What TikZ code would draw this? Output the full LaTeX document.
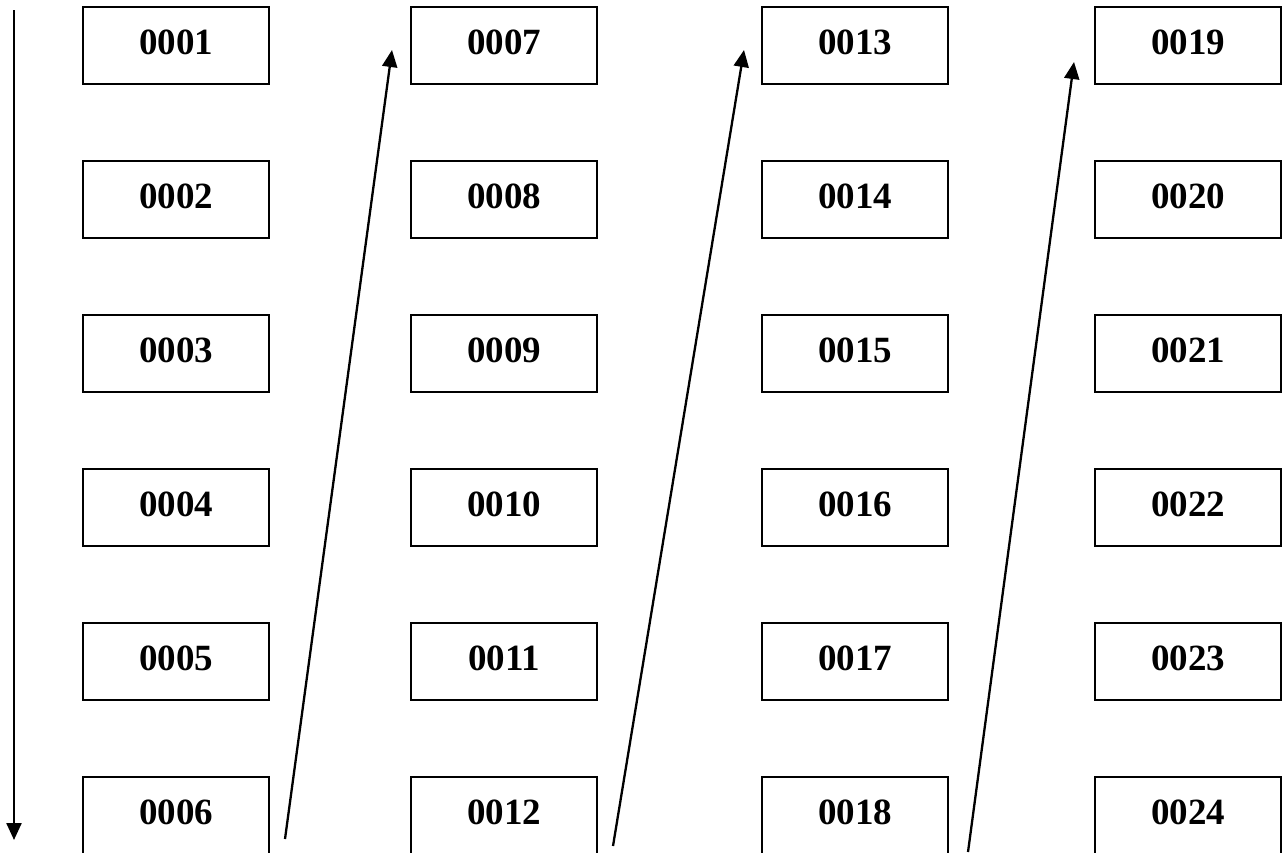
\documentclass[tikz,border=0pt]{standalone}
\usepackage{fontspec}
\setmainfont{Liberation Serif}
\usetikzlibrary{arrows.meta}
\begin{document}
\begin{tikzpicture}[x=1pt,y=-1pt,
  cell/.style={draw,line width=2.5pt,minimum width=186pt,minimum height=77pt,inner sep=0pt,
    font=\fontsize{37}{40}\selectfont\bfseries,text depth=6pt},
  arr/.style={line width=2.3pt,-{Triangle[length=17pt,width=15pt]}}]
\useasboundingbox (0,0) rectangle (1284,852);
\foreach \c/\x in {0/176,1/504,2/855,3/1188}{
  \foreach \r/\y in {1/45.5,2/199.5,3/353.5,4/507.5,5/661.5,6/815.5}{
    \pgfmathtruncatemacro{\n}{\c*6+\r}
    \node[cell] (b\n) at (\x,\y) {\ifnum\n<10 000\n\else 00\n\fi};
  }
}
\coordinate (s0) at (14,10);
\coordinate (e0) at (14,840);
\coordinate (s1) at (285,839);
\coordinate (e1) at (392,50);
\coordinate (s2) at (613,846);
\coordinate (e2) at (744,50);
\coordinate (s3) at (968,852);
\coordinate (e3) at (1074,62);
\draw[arr] (s0) -- (e0);
\draw[arr] (s1) -- (e1);
\draw[arr] (s2) -- (e2);
\draw[arr] (s3) -- (e3);
\end{tikzpicture}
\end{document}
